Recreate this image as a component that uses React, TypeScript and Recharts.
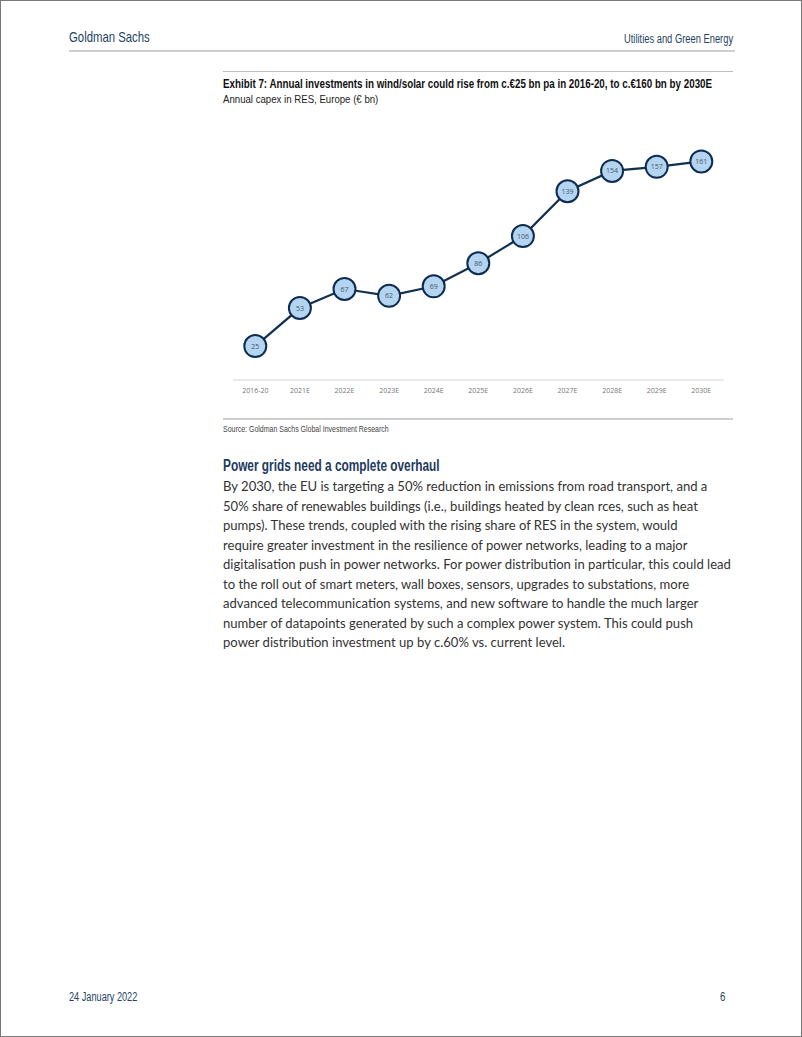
import React, { useLayoutEffect, useRef, useState } from "react";
import { LineChart, Line, XAxis, YAxis, LabelList } from "recharts";

const categories = ["2016-20", "2021E", "2022E", "2023E", "2024E", "2025E", "2026E", "2027E", "2028E", "2029E", "2030E"];
const capex = [25, 53, 67, 62, 69, 86, 106, 139, 154, 157, 161];

const data = categories.map((c, i) => ({ period: c, value: capex[i] }));

const bodyLines = [
  "By 2030, the EU is targeting a 50% reduction in emissions from road transport, and a",
  "50% share of renewables buildings (i.e., buildings heated by clean rces, such as heat",
  "pumps). These trends, coupled with the rising share of RES in the system, would",
  "require greater investment in the resilience of power networks, leading to a major",
  "digitalisation push in power networks. For power distribution in particular, this could lead",
  "to the roll out of smart meters, wall boxes, sensors, upgrades to substations, more",
  "advanced telecommunication systems, and new software to handle the much larger",
  "number of datapoints generated by such a complex power system. This could push",
  "power distribution investment up by c.60% vs. current level.",
];

const COND = '"Liberation Sans", Arial, sans-serif';
const NAVY = "#253f63";

function Fit(props: {
  x: number;
  cy: number;
  size: number;
  width?: number;
  scale?: number;
  right?: boolean;
  style?: React.CSSProperties;
  children: React.ReactNode;
}) {
  const ref = useRef<HTMLDivElement>(null);
  const [k, setK] = useState(props.scale ?? 1);
  useLayoutEffect(() => {
    if (props.width && ref.current) {
      const w = ref.current.offsetWidth;
      if (w > 0) setK(props.width / w);
    }
  }, [props.width]);
  const lh = Math.round(props.size * 1.3);
  const base: React.CSSProperties = {
    position: "absolute",
    top: props.cy - lh / 2,
    fontSize: props.size,
    lineHeight: lh + "px",
    whiteSpace: "nowrap",
    transform: `scaleX(${k})`,
    transformOrigin: props.right ? "right center" : "left center",
  };
  if (props.right) base.right = 802 - props.x;
  else base.left = props.x;
  return (
    <div ref={ref} style={{ ...base, ...props.style }}>
      {props.children}
    </div>
  );
}

function Dot(props: any) {
  const { cx, cy } = props;
  if (cx == null || cy == null) return null;
  return <circle cx={cx} cy={cy} r={11} fill="#b3d5f2" stroke="#0f2c50" strokeWidth={2} />;
}

export default function App() {
  return (
    <div
      style={{
        position: "absolute",
        left: 0,
        top: 0,
        width: 802,
        height: 1037,
        background: "#fff",
        boxSizing: "border-box",
        border: "1px solid #7a7a7a",
        fontFamily: COND,
      }}
    >
      <Fit x={68} cy={36} size={15} width={81} style={{ color: NAVY }}>Goldman Sachs</Fit>
      <Fit x={734} cy={38} size={12} width={109} right style={{ color: NAVY }}>Utilities and Green Energy</Fit>
      <div style={{ position: "absolute", left: 68, top: 49, width: 666, height: 2, background: "#cfcfcf" }} />

      <div style={{ position: "absolute", left: 222, top: 70, width: 510, height: 1, background: "#bdbdbd" }} />
      <Fit x={222} cy={83} size={12} width={489} style={{ color: "#111", fontWeight: 700 }}>
        Exhibit 7: Annual investments in wind/solar could rise from c.€25 bn pa in 2016-20, to c.€160 bn by 2030E
      </Fit>
      <Fit x={222} cy={98} size={11.5} width={155} style={{ color: "#222" }}>Annual capex in RES, Europe (€ bn)</Fit>

      <div style={{ position: "absolute", left: 222, top: 110 }}>
        <LineChart width={510} height={300} data={data} margin={{ top: 24.6, right: 9.4, bottom: 11, left: 10 }}>
          <YAxis hide domain={[0, 180]} />
          <XAxis
            dataKey="period"
            axisLine={{ stroke: "#e2e2e2", strokeWidth: 1.5 }}
            tickLine={false}
            height={20}
            interval={0}
            padding={{ left: 22.3, right: 22.3 }}
            tick={{ fontSize: 7, fill: "#777", fontFamily: '"Open Sans", sans-serif' }}
          />
          <Line
            type="linear"
            dataKey="value"
            stroke="#13304f"
            strokeWidth={2.2}
            dot={<Dot />}
            activeDot={false}
            isAnimationActive={false}
          >
            <LabelList
              dataKey="value"
              position="center"
              style={{ fontSize: 7, fill: "#4a5563", fontFamily: '"Open Sans", sans-serif' }}
            />
          </Line>
        </LineChart>
      </div>

      <div style={{ position: "absolute", left: 222, top: 417, width: 510, height: 2, background: "#cfcfcf" }} />
      <Fit x={222} cy={428} size={9} width={166} style={{ color: "#444" }}>Source: Goldman Sachs Global Investment Research</Fit>

      <Fit x={222} cy={464} size={16} width={217} style={{ color: "#1d3a60", fontWeight: 700 }}>
        Power grids need a complete overhaul
      </Fit>
      {bodyLines.map((l, i) => (
        <Fit key={i} x={222} cy={485 + i * 19.5} size={14} scale={0.934} style={{ color: "#333", fontFamily: "Lato, sans-serif" }}>
          {l}
        </Fit>
      ))}

      <Fit x={68} cy={996} size={12} width={68} style={{ color: NAVY }}>24 January 2022</Fit>
      <Fit x={719} cy={996} size={12} style={{ color: NAVY, transform: "scaleX(0.8)" }}>6</Fit>
    </div>
  );
}
